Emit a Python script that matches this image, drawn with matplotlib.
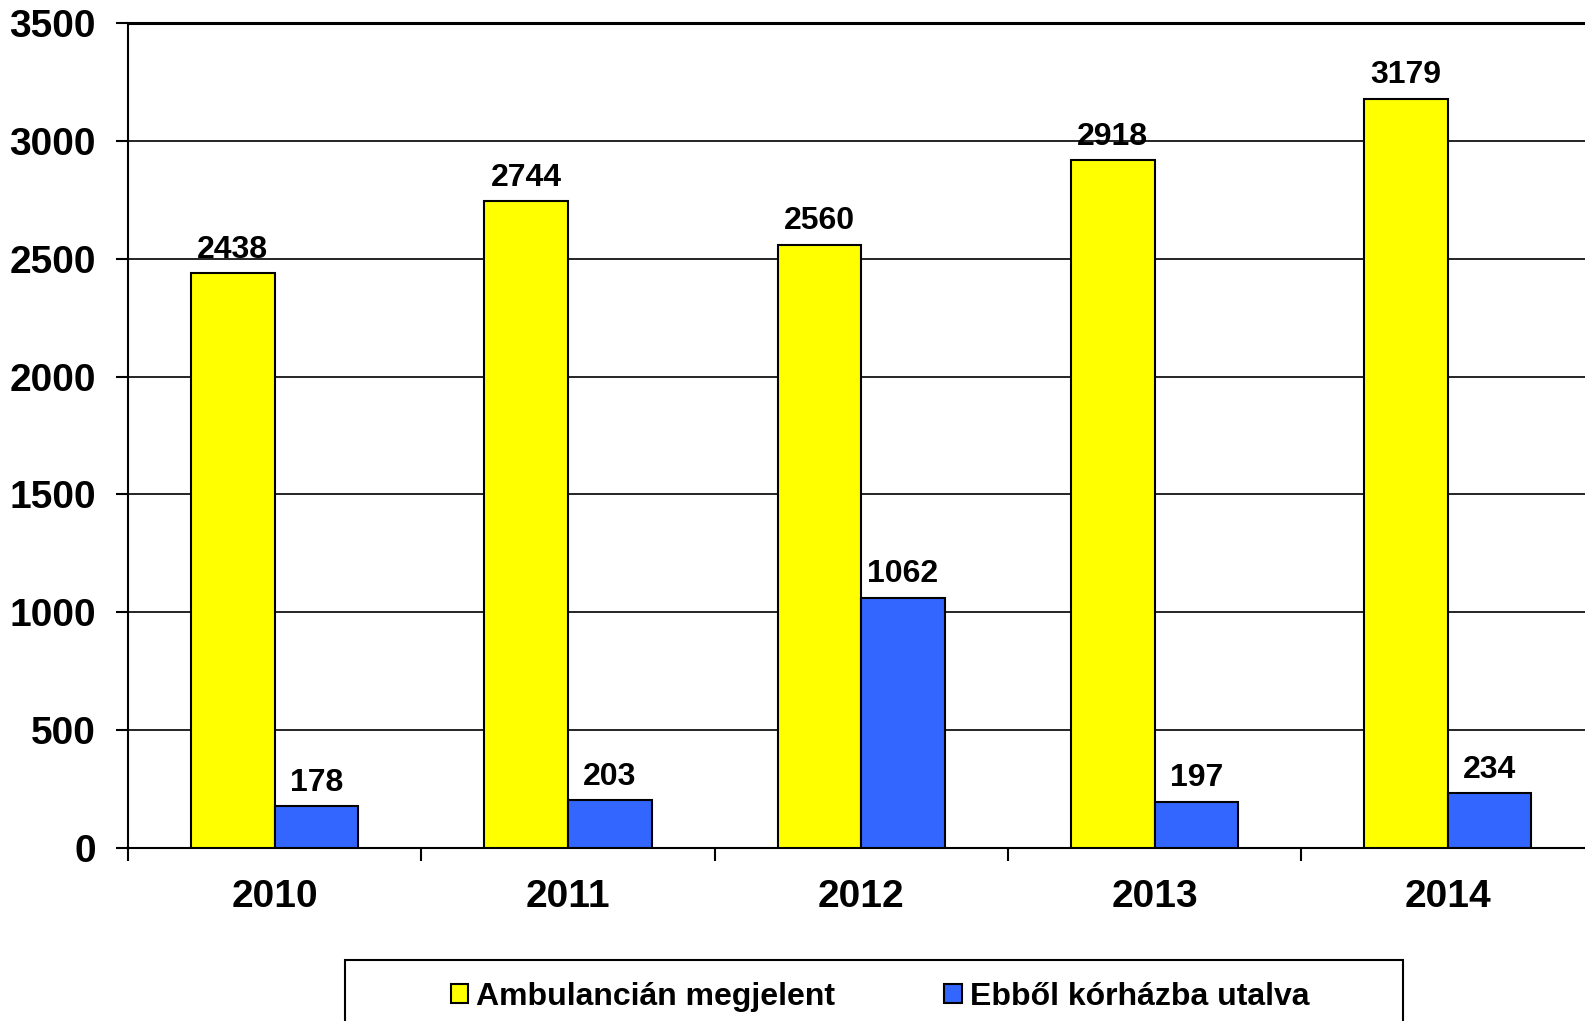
import matplotlib
matplotlib.use("Agg")
import matplotlib.pyplot as plt
from matplotlib.patches import Rectangle
import numpy as np

# data
years = ["2010", "2011", "2012", "2013", "2014"]
ambulancia = [2438, 2744, 2560, 2918, 3179]
korhaz = [178, 203, 1062, 197, 234]
series_names = ["Ambulancián megjelent", "Ebből kórházba utalva"]
yticks = [0, 500, 1000, 1500, 2000, 2500, 3000, 3500]

plt.rcParams['font.family'] = ['Liberation Sans', 'DejaVu Sans']
plt.rcParams['font.weight'] = 'bold'

W, H = 1585, 1021
fig = plt.figure(figsize=(W / 100, H / 100), dpi=100)

# axes box in pixels (axis runs past the right edge, as in the original crop)
left_px, zero_px, top_px, cat_px = 128, 848, 23, 293.3
ax = fig.add_axes([left_px / W, (H - zero_px) / H,
                   5 * cat_px / W, (zero_px - top_px) / H])

x = np.arange(len(years))
bw = 0.285
b1 = ax.bar(x + 0.5 - bw / 2, ambulancia, bw, color="#FFFF00",
            edgecolor="black", linewidth=1.5, label=series_names[0], zorder=3)
b2 = ax.bar(x + 0.5 + bw / 2, korhaz, bw, color="#3366FF",
            edgecolor="black", linewidth=1.5, label=series_names[1], zorder=3)

for bars in (b1, b2):
    for r in bars:
        ax.annotate(f"{int(r.get_height())}",
                    (r.get_x() + r.get_width() / 2, r.get_height()),
                    xytext=(0, 6), textcoords="offset points",
                    ha="center", va="bottom", fontsize=23, fontweight="bold")

ax.set_xlim(0, len(years))
ax.set_ylim(0, 3500)
ax.set_yticks(yticks)
ax.set_yticklabels([str(v) for v in yticks])
ax.tick_params(axis="y", direction="out", length=9, width=1.5,
               labelsize=28, pad=14)

# ticks on category boundaries, labels in the middle
ax.set_xticks(np.arange(len(years) + 1))
ax.set_xticklabels([])
ax.set_xticks(x + 0.5, minor=True)
ax.set_xticklabels(years, minor=True)
ax.tick_params(axis="x", which="major", direction="out", length=9, width=1.5)
ax.tick_params(axis="x", which="minor", length=0, labelsize=28, pad=22)

ax.grid(axis="y", color="black", linewidth=1.2, zorder=0)
ax.set_axisbelow(True)
for s in ("top", "right"):
    ax.spines[s].set_visible(False)
ax.spines["left"].set_linewidth(1.5)
ax.spines["bottom"].set_linewidth(1.5)
ax.axhline(3500, color="black", linewidth=2.2, clip_on=False, zorder=1)

# legend box, cut by the bottom edge like in the reference
fig.patches.append(Rectangle((345 / W, -0.05), (1403 - 345) / W, 0.05 + (H - 960) / H,
                             transform=fig.transFigure, facecolor="white",
                             edgecolor="black", linewidth=1.5))
fig.legend(handles=[b1, b2], loc="center", bbox_to_anchor=(880 / W, 1 - 997 / H),
           ncol=2, frameon=False, fontsize=23, handlelength=0.55, handleheight=0.55,
           handletextpad=0.25, columnspacing=3.4)

fig.savefig("out.png", dpi=100)
